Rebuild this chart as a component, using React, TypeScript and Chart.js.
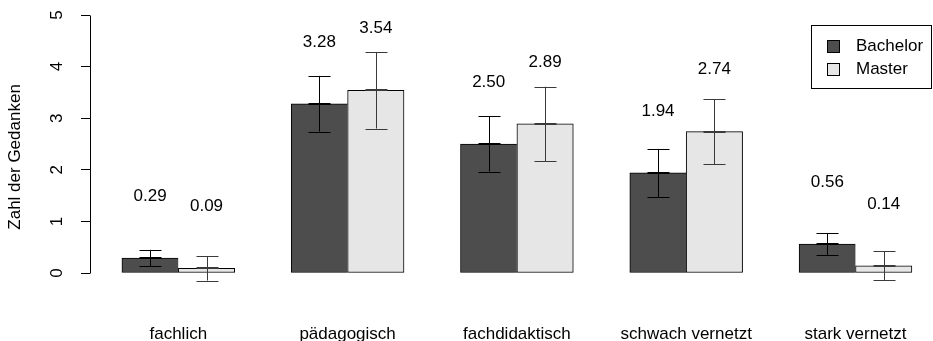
import React, { useEffect, useRef } from "react";
import { Chart, registerables } from "chart.js";

Chart.register(...registerables);

// ---- data ----
const categories = ["fachlich", "pädagogisch", "fachdidaktisch", "schwach vernetzt", "stark vernetzt"];
const seriesNames = ["Bachelor", "Master"];
const bachelorMeans = [0.29, 3.28, 2.5, 1.94, 0.56];
const masterMeans = [0.09, 3.54, 2.89, 2.74, 0.14];
const bachelorSE = [0.16, 0.54, 0.535, 0.465, 0.21];
const masterSE = [0.235, 0.74, 0.72, 0.63, 0.28];
const yTicks = [0, 1, 2, 3, 4, 5];
const yTitle = "Zahl der Gedanken";

// ---- style ----
const FONT = "'Liberation Sans', Arial, Helvetica, sans-serif";
const FONT_SIZE = 17;
const W = 933;
const H = 341;
const barColors = ["#4D4D4D", "#E6E6E6"];
const errColors = ["#000000", "#3a3a3a"];
const LABEL_OFFSET = 1.2; // value units above bar top

const errorBarPlugin = {
  id: "errorBarsAndLabels",
  afterDatasetsDraw(chart: any) {
    const ctx = chart.ctx;
    const ys = chart.scales.y;
    ctx.save();
    chart.data.datasets.forEach((ds: any, di: number) => {
      const meta = chart.getDatasetMeta(di);
      meta.data.forEach((bar: any, i: number) => {
        const v = ds.data[i].y;
        const e = ds.errors[i];
        const cx = Math.round(bar.x) + 0.5;
        const yTop = ys.getPixelForValue(v + e);
        const yBot = ys.getPixelForValue(v - e);
        const yMid = ys.getPixelForValue(v);
        const cap = 11;
        ctx.strokeStyle = ds.errorColor;
        ctx.lineWidth = 1;
        ctx.beginPath();
        ctx.moveTo(cx, yTop);
        ctx.lineTo(cx, yBot);
        ctx.moveTo(cx - cap, Math.round(yTop) + 0.5);
        ctx.lineTo(cx + cap, Math.round(yTop) + 0.5);
        ctx.moveTo(cx - cap, Math.round(yBot) + 0.5);
        ctx.lineTo(cx + cap, Math.round(yBot) + 0.5);
        ctx.stroke();
        ctx.lineWidth = 2;
        ctx.beginPath();
        ctx.moveTo(cx - cap, Math.round(yMid));
        ctx.lineTo(cx + cap, Math.round(yMid));
        ctx.stroke();
        // value label
        ctx.fillStyle = "#000";
        ctx.font = `${FONT_SIZE}px ${FONT}`;
        ctx.textAlign = "center";
        ctx.textBaseline = "middle";
        ctx.fillText(v.toFixed(2), bar.x, ys.getPixelForValue(v + LABEL_OFFSET));
      });
    });
    ctx.restore();
  },
  afterDraw(chart: any) {
    const ctx = chart.ctx;
    const ys = chart.scales.y;
    ctx.save();
    // y axis line (only from first to last tick)
    const ax = Math.floor(chart.chartArea.left) + 0.5;
    ctx.strokeStyle = "#000";
    ctx.lineWidth = 1;
    ctx.beginPath();
    ctx.moveTo(ax, Math.round(ys.getPixelForValue(yTicks[0])) + 0.5);
    ctx.lineTo(ax, Math.round(ys.getPixelForValue(yTicks[yTicks.length - 1])) + 0.5);
    ctx.stroke();

    // legend box
    const boxW = 120;
    const boxH = 63;
    const boxX = chart.width - 2 - boxW;
    const boxY = 25;
    ctx.fillStyle = "#fff";
    ctx.fillRect(boxX, boxY, boxW, boxH);
    ctx.strokeRect(Math.round(boxX) + 0.5, boxY + 0.5, boxW, boxH);
    ctx.font = `${FONT_SIZE}px ${FONT}`;
    ctx.textAlign = "left";
    ctx.textBaseline = "middle";
    chart.data.datasets.forEach((ds: any, di: number) => {
      const cy = boxY + 21 + di * 23.4;
      const sx = boxX + 16;
      const sz = 12;
      ctx.fillStyle = ds.backgroundColor;
      ctx.fillRect(sx, cy - sz / 2, sz, sz);
      ctx.strokeStyle = "#000";
      ctx.strokeRect(sx + 0.5, Math.round(cy - sz / 2) + 0.5, sz, sz);
      ctx.fillStyle = "#000";
      ctx.fillText(ds.label, boxX + 45, cy);
    });
    ctx.restore();
  },
};

export default function App() {
  const ref = useRef<HTMLCanvasElement | null>(null);

  useEffect(() => {
    if (!ref.current) return;
    const chart = new Chart(ref.current, {
      type: "bar",
      data: {
        datasets: [
          {
            label: seriesNames[0],
            data: bachelorMeans.map((v, i) => ({ x: i, y: v })),
            errors: bachelorSE,
            errorColor: errColors[0],
            backgroundColor: barColors[0],
            borderColor: "#000",
            borderWidth: { top: 1, left: 1, bottom: 1, right: 0 },
            borderSkipped: false,
            barThickness: 56.4,
          } as any,
          {
            label: seriesNames[1],
            data: masterMeans.map((v, i) => ({ x: i, y: v })),
            errors: masterSE,
            errorColor: errColors[1],
            backgroundColor: barColors[1],
            borderColor: "#000",
            borderWidth: 1,
            borderSkipped: false,
            barThickness: 56.4,
          } as any,
        ],
      },
      options: {
        responsive: false,
        animation: false,
        events: [],
        layout: { padding: { top: 3.65, left: 0, right: 0, bottom: 0 } },
        plugins: {
          legend: { display: false },
          tooltip: { enabled: false },
        },
        scales: {
          x: {
            type: "linear",
            offset: false,
            min: -0.5216,
            max: 4.4578,
            grid: { display: false, drawTicks: false, offset: false },
            border: { display: false },
            afterBuildTicks: (s: any) => {
              s.ticks = categories.map((_, i) => ({ value: i }));
            },
            afterFit: (s: any) => {
              s.height = H - 310.2;
              s.paddingLeft = 0;
              s.paddingRight = 0;
            },
            ticks: {
              autoSkip: false,
              maxRotation: 0,
              minRotation: 0,
              padding: 13.5,
              color: "#000",
              font: { family: FONT, size: FONT_SIZE },
              callback: (v: any) => categories[Math.round(Number(v))] ?? "",
            },
          },
          y: {
            type: "linear",
            min: -0.72,
            max: 5.22,
            grid: {
              display: true,
              drawOnChartArea: false,
              drawTicks: true,
              tickLength: 9,
              tickColor: "#000",
              lineWidth: 1,
            },
            border: { display: false },
            afterBuildTicks: (s: any) => {
              s.ticks = yTicks.map((v) => ({ value: v }));
            },
            afterFit: (s: any) => {
              s.width = 90;
              s.paddingTop = 0;
              s.paddingBottom = 0;
            },
            title: {
              display: true,
              text: yTitle,
              color: "#000",
              font: { family: FONT, size: FONT_SIZE },
              padding: { top: 5, bottom: 0 },
            },
            ticks: {
              autoSkip: false,
              minRotation: 90,
              maxRotation: 90,
              crossAlign: "center",
              padding: 19,
              color: "#000",
              font: { family: FONT, size: FONT_SIZE },
              callback: (v: any) => String(v),
            },
          },
        },
      } as any,
      plugins: [errorBarPlugin],
    });
    return () => chart.destroy();
  }, []);

  return (
    <div style={{ position: "absolute", left: 0, top: 0, width: W, height: H, background: "#fff" }}>
      <canvas ref={ref} width={W} height={H} style={{ display: "block" }} />
    </div>
  );
}
